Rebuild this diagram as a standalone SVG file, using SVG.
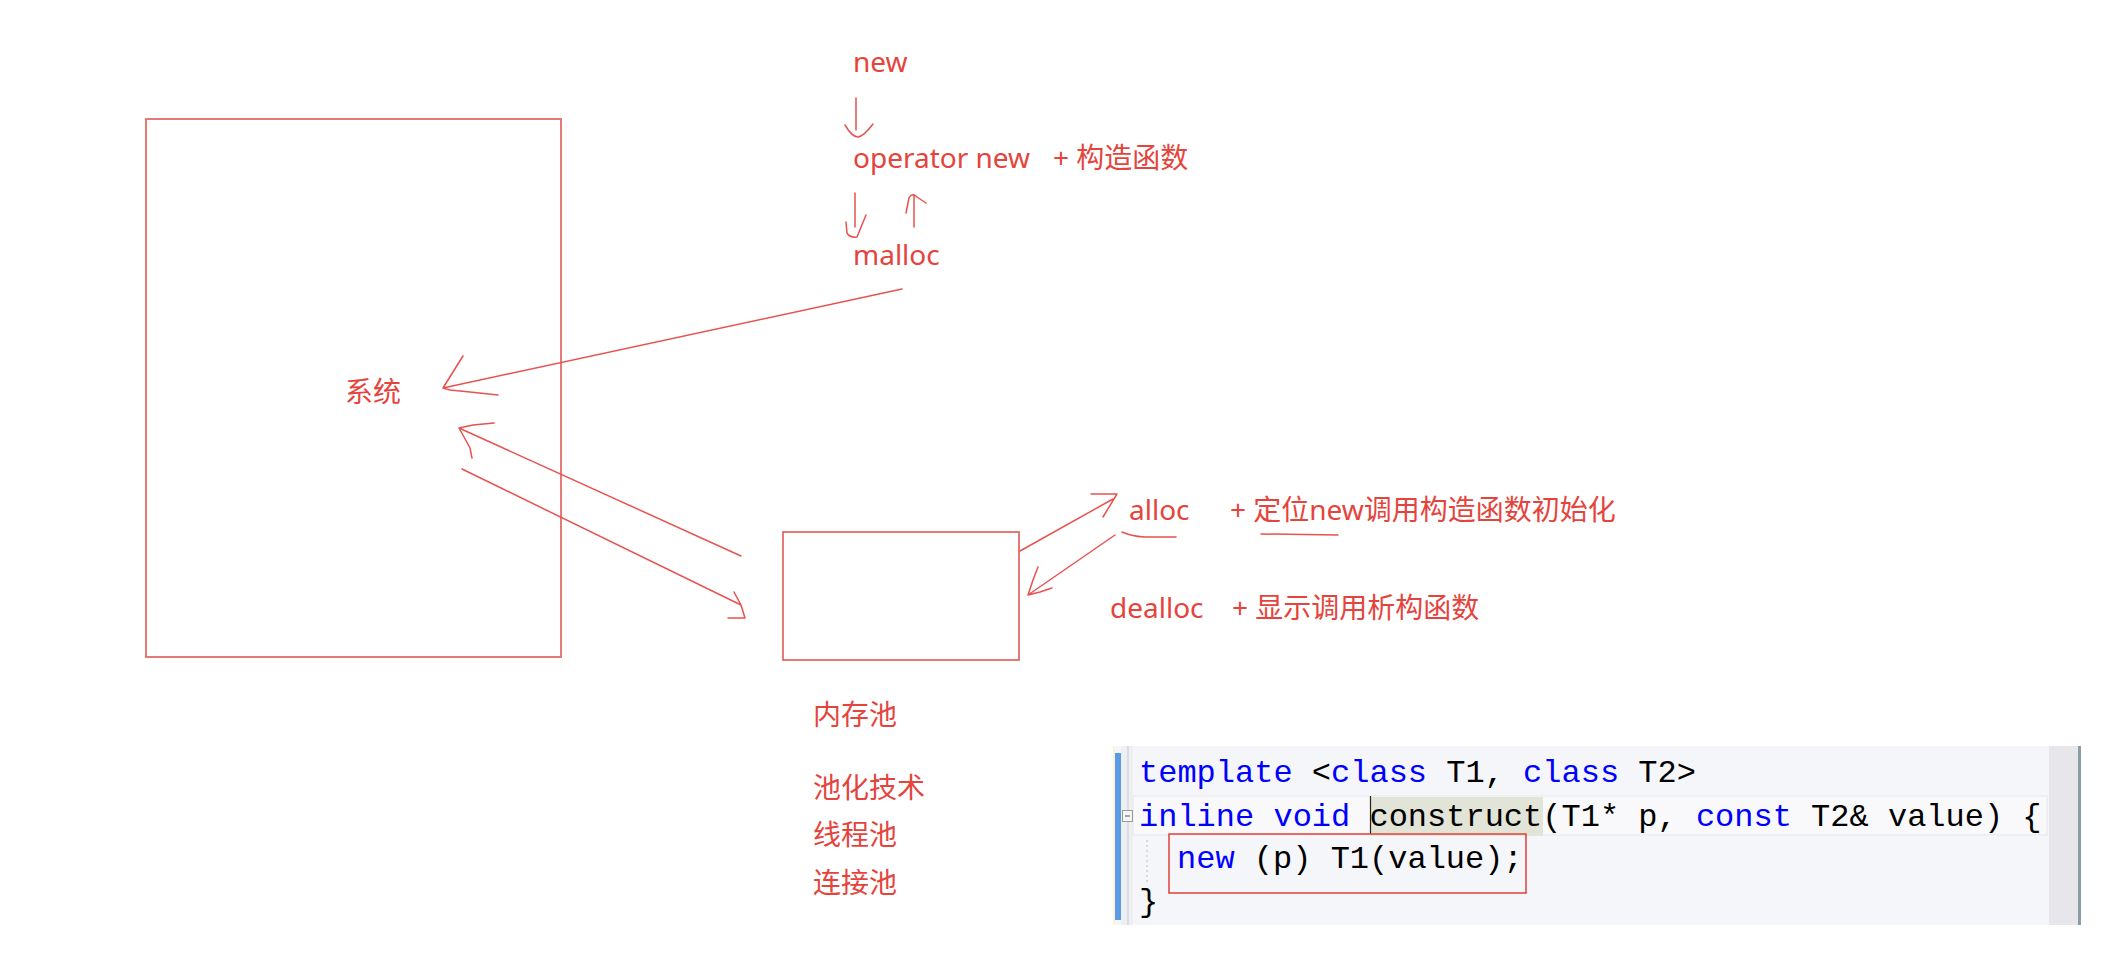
<svg xmlns="http://www.w3.org/2000/svg" width="2124" height="961" viewBox="0 0 2124 961">
<defs>
<style>
.lbl{font-family:"Microsoft YaHei","Noto Sans","Noto Sans CJK SC",sans-serif;font-size:28px;fill:#E5443D;}
.box{fill:none;stroke:#E46A68;stroke-width:1.8;}
.ink{fill:none;stroke:#E8524F;stroke-width:1.5;stroke-linecap:round;stroke-linejoin:round;}
.code{font-family:"Liberation Mono","DejaVu Sans Mono",monospace;font-size:32px;fill:#000;white-space:pre;}
.kw{fill:#0000FF;}
</style>
</defs>
<rect width="2124" height="961" fill="#FFFFFF"/>

<g id="node-system">
<rect class="box" x="146" y="119" width="415" height="538"/>
<text class="lbl" x="345" y="402">系统</text>
</g>

<g id="node-pool">
<rect class="box" x="783" y="532" width="236" height="128"/>
<text class="lbl" x="813" y="725">内存池</text>
</g>

<g id="node-new"><text class="lbl" x="853" y="72">new</text></g>
<g id="node-operator-new">
<text class="lbl" x="853" y="168">operator new</text>
<text class="lbl" x="1053" y="168">+ 构造函数</text>
</g>
<g id="node-malloc"><text class="lbl" x="853" y="265">malloc</text></g>
<g id="node-alloc">
<text class="lbl" x="1129" y="520">alloc</text>
<text class="lbl" x="1230" y="520">+ 定位new调用构造函数初始化</text>
</g>
<g id="node-dealloc">
<text class="lbl" x="1110" y="618">dealloc</text>
<text class="lbl" x="1232" y="618">+ 显示调用析构函数</text>
</g>
<g id="node-pooling">
<text class="lbl" x="813" y="798">池化技术</text>
<text class="lbl" x="813" y="845">线程池</text>
<text class="lbl" x="813" y="893">连接池</text>
</g>

<g id="node-code">
<rect x="1113" y="746" width="967" height="179" fill="#F5F6FA"/>
<rect x="1113" y="746" width="2" height="179" fill="#FBF3D5"/>
<rect x="1115" y="753" width="6" height="167" fill="#5A9BE6"/>
<rect x="1121" y="746" width="12" height="179" fill="#EEEFF3"/>
<line x1="1128" y1="746" x2="1128" y2="925" stroke="#C9C9CF" stroke-width="1"/>
<rect x="1133" y="796" width="914" height="39" fill="#F9F9FB" stroke="#E6E7EB" stroke-width="1"/>
<rect x="1122.5" y="810.5" width="10" height="11" fill="#F4F4F4" stroke="#9A9A9A" stroke-width="1"/>
<line x1="1125" y1="816" x2="1130" y2="816" stroke="#555" stroke-width="1"/>
<rect x="1371" y="797" width="172" height="39" fill="#E1E4D6"/>
<line x1="1370.5" y1="796" x2="1370.5" y2="834" stroke="#222" stroke-width="1.2"/>
<rect x="2049" y="746" width="29" height="179" fill="#E7E7EB"/>
<rect x="2078" y="746" width="3" height="179" fill="#8C9BA8"/>
<line x1="1147" y1="840" x2="1147" y2="882" stroke="#BDBDBD" stroke-width="1" stroke-dasharray="2,3"/>
<text class="code" x="1139" y="782"><tspan class="kw">template</tspan> &lt;<tspan class="kw">class</tspan> T1, <tspan class="kw">class</tspan> T2&gt;</text>
<text class="code" x="1139" y="826"><tspan class="kw">inline void</tspan> construct(T1* p, <tspan class="kw">const</tspan> T2&amp; value) {</text>
<text class="code" x="1177" y="868"><tspan class="kw">new</tspan> (p) T1(value);</text>
<text class="code" x="1139" y="911">}</text>
<rect x="1169" y="834" width="357" height="59" fill="none" stroke="#E0403A" stroke-width="1.5"/>
</g>

<g id="connectors">
<path class="ink" d="M856,98 L856,130 M845,125 Q852,137 858,137 Q864,136 873,124"/>
<path class="ink" d="M855,193 L855,227 M846,222 L847,233 Q850,238 857,237 L866,215"/>
<path class="ink" d="M914,227 L914,195 M906,213 L909,198 Q912,192 917,197 L926,203"/>
<path class="ink" d="M902,289 L443,388 M463,356 L443,388 L450,390 L470,392 L498,395"/>
<path class="ink" d="M741,556 L459,428 M494,423 L473,425 L459,428 L464,437 L470,448 L472,458"/>
<path class="ink" d="M462,469 L741,605 M734,592 L741,605 L745,618 L728,618"/>
<path class="ink" d="M1020,551 L1113,499 M1091,494 L1117,494 L1103,517"/>
<path class="ink" d="M1115,535 L1028,595 M1038,567 L1033,580 L1028,595 L1040,592 L1052,588"/>
<path class="ink" d="M1122,532 Q1130,536 1145,537 L1176,537"/>
<path class="ink" d="M1261,534 L1338,535"/>
</g>
</svg>
